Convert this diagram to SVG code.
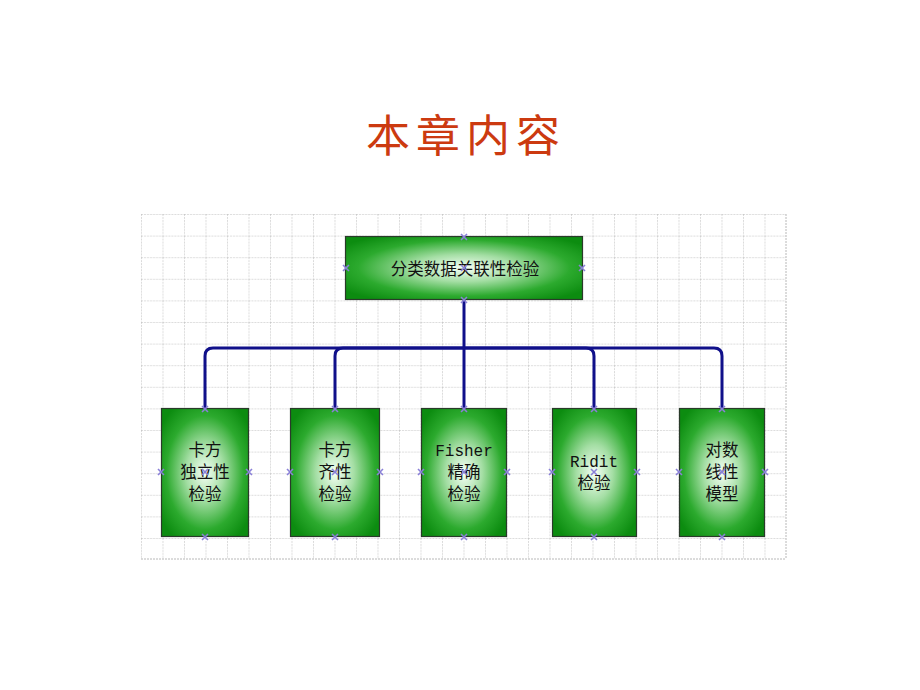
<svg xmlns="http://www.w3.org/2000/svg" width="920" height="690" viewBox="0 0 920 690">
<defs>
<radialGradient id="g" cx="50%" cy="50%" r="62%">
<stop offset="0" stop-color="#f6fff6"/>
<stop offset="0.35" stop-color="#a4dea4"/>
<stop offset="0.72" stop-color="#2caa2e"/>
<stop offset="1" stop-color="#0c8c10"/>
</radialGradient>
<pattern id="grid" x="141" y="214" width="21.5" height="21.6" patternUnits="userSpaceOnUse">
<path d="M0 0V21.6M0 0H21.5" fill="none" stroke="#b8b8b8" stroke-width="1" stroke-dasharray="2 1"/>
</pattern>
<g id="mk"><path d="M-3 -3L3 3M-3 3L3 -3" stroke="#8a80d8" stroke-width="1.6"/></g>
</defs>
<style>
.box{fill:url(#g);stroke:#2a3a2a;stroke-width:1.2}
.t{font-family:"Noto Sans CJK SC","Noto Serif CJK SC",serif;font-size:16.5px;fill:#111;text-anchor:middle}
.m{font-family:"Liberation Mono","Noto Sans CJK SC",monospace;font-size:16px}
.c{fill:none;stroke:#10108a;stroke-width:3}
</style>
<rect width="920" height="690" fill="#fff"/>
<rect x="141" y="214" width="645" height="345" fill="url(#grid)"/>
<path d="M141 559H786M786 214V559" stroke="#b8b8b8" stroke-dasharray="2 1"/>
<text x="466" y="152" font-family="Noto Sans CJK SC,sans-serif" font-size="44" fill="#cc3a10" text-anchor="middle" letter-spacing="6">本章内容</text>
<g id="connectors">
<path class="c" d="M464 300V408"/>
<path class="c" d="M205 408V356Q205 348 213 348H714Q722 348 722 356V408"/>
<path class="c" d="M335 408V356Q335 348 343 348H586Q594 348 594 356V408"/>
</g>
<g id="n0"><rect class="box" x="345.5" y="236.5" width="237" height="63"/><text class="t" x="465" y="275" font-size="18.5">分类数据关联性检验</text>
<use href="#mk" x="464" y="237"/><use href="#mk" x="346" y="268"/><use href="#mk" x="582" y="268"/><use href="#mk" x="464" y="300"/><use href="#mk" x="464" y="268"/></g>
<g id="n1"><rect class="box" x="161.5" y="408.5" width="87" height="128"/><text class="t" x="205" y="456">卡方</text><text class="t" x="205" y="478">独立性</text><text class="t" x="205" y="500">检验</text>
<use href="#mk" x="205" y="409"/><use href="#mk" x="205" y="537"/><use href="#mk" x="161" y="472"/><use href="#mk" x="249" y="472"/><use href="#mk" x="205" y="472"/></g>
<g id="n2"><rect class="box" x="290.5" y="408.5" width="89" height="128"/><text class="t" x="335" y="456">卡方</text><text class="t" x="335" y="478">齐性</text><text class="t" x="335" y="500">检验</text>
<use href="#mk" x="335" y="409"/><use href="#mk" x="335" y="537"/><use href="#mk" x="290" y="472"/><use href="#mk" x="380" y="472"/><use href="#mk" x="335" y="472"/></g>
<g id="n3"><rect class="box" x="421.5" y="408.5" width="85" height="128"/><text class="t m" x="464" y="456">Fisher</text><text class="t" x="464" y="478">精确</text><text class="t" x="464" y="500">检验</text>
<use href="#mk" x="464" y="409"/><use href="#mk" x="464" y="537"/><use href="#mk" x="421" y="472"/><use href="#mk" x="507" y="472"/><use href="#mk" x="464" y="472"/></g>
<g id="n4"><rect class="box" x="552.5" y="408.5" width="84" height="128"/><text class="t m" x="594" y="467">Ridit</text><text class="t" x="594" y="489">检验</text>
<use href="#mk" x="594" y="409"/><use href="#mk" x="594" y="537"/><use href="#mk" x="552" y="472"/><use href="#mk" x="637" y="472"/><use href="#mk" x="594" y="472"/></g>
<g id="n5"><rect class="box" x="679.5" y="408.5" width="85" height="128"/><text class="t" x="722" y="456">对数</text><text class="t" x="722" y="478">线性</text><text class="t" x="722" y="500">模型</text>
<use href="#mk" x="722" y="409"/><use href="#mk" x="722" y="537"/><use href="#mk" x="679" y="472"/><use href="#mk" x="765" y="472"/><use href="#mk" x="722" y="472"/></g>
</svg>
